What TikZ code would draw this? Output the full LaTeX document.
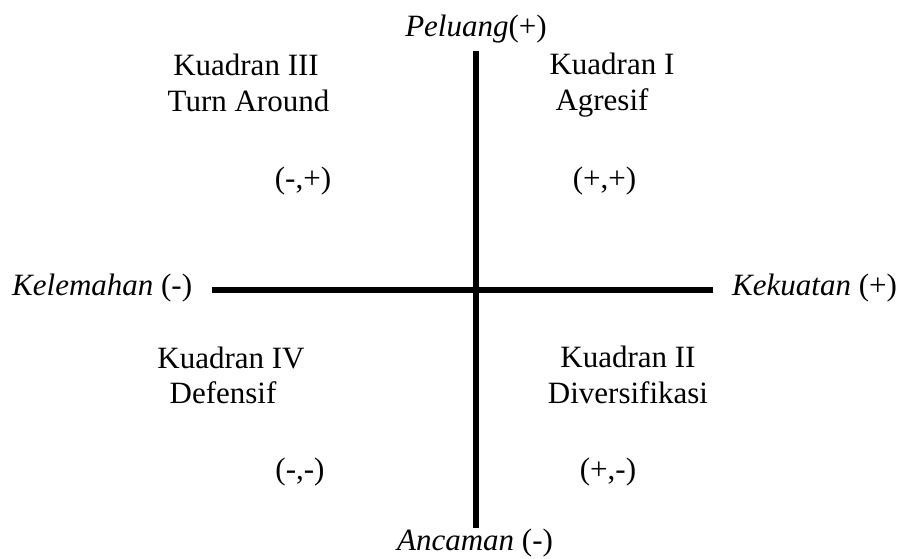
\documentclass[tikz,border=0pt]{standalone}
\usepackage{fontspec}
\setmainfont{Liberation Serif}
\usepackage{tikz}
\usetikzlibrary{positioning,calc}

\begin{document}
\begin{tikzpicture}[x=1pt,y=-1pt,lbl/.style={inner sep=0pt,anchor=base,font=\fontsize{31}{36}\selectfont}]
\useasboundingbox (0,0) rectangle (903,558);
% axes
\coordinate (top) at (475.5,51);
\coordinate (bot) at (475.5,528);
\coordinate (lft) at (212,290);
\coordinate (rgt) at (713,290);
\draw[line width=6pt] (top)--(bot);
\draw[line width=6pt] (lft)--(rgt);
% axis labels
\node[lbl] (pel) at (476,36) {\textit{Peluang}(+)};
\node[lbl] (anc) at (475,550) {\textit{Ancaman} (-)};
\node[lbl,anchor=base west] (kel) at (12,295) {\textit{Kelemahan} (-)};
\node[lbl,anchor=base west] (kek) at (732,295) {\textit{Kekuatan} (+)};
% quadrants
\node[lbl] (q3a) at (246,75) {Kuadran III};
\node[lbl] (q3b) at (248.5,111) {Turn Around};
\node[lbl] (q3c) at (303,188) {(-,+)};
\node[lbl] (q1a) at (612,74) {Kuadran I};
\node[lbl] (q1b) at (602,110) {Agresif};
\node[lbl] (q1c) at (604.5,188) {(+,+)};
\node[lbl] (q4a) at (231,368) {Kuadran IV};
\node[lbl] (q4b) at (223,403) {Defensif};
\node[lbl] (q4c) at (300,479) {(-,-)};
\node[lbl] (q2a) at (628,367) {Kuadran II};
\node[lbl] (q2b) at (628,403) {Diversifikasi};
\node[lbl] (q2c) at (608,479) {(+,-)};
\end{tikzpicture}
\end{document}
